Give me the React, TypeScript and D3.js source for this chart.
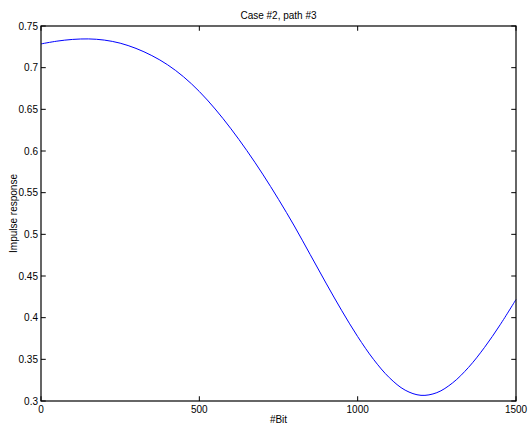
import React from "react";
import * as d3 from "d3";

const bits = [0, 50, 100, 150, 200, 250, 300, 350, 400, 450, 500, 550, 600, 650, 700, 750, 800, 850, 900, 950, 1000, 1050, 1100, 1150, 1200, 1250, 1300, 1350, 1400, 1450, 1500];
const response = [0.7285, 0.7318, 0.7339, 0.7345, 0.7331, 0.7294, 0.7231, 0.7145, 0.7034, 0.6891, 0.6714, 0.6504, 0.6266, 0.6005, 0.5723, 0.5420, 0.5100, 0.4758, 0.4415, 0.4083, 0.3773, 0.3500, 0.3280, 0.3130, 0.3068, 0.3100, 0.3218, 0.3403, 0.3640, 0.3915, 0.4218];
const xTicks = [0, 500, 1000, 1500];
const yTicks = [0.3, 0.35, 0.4, 0.45, 0.5, 0.55, 0.6, 0.65, 0.7, 0.75];
const title = "Case #2, path #3";
const xLabel = "#Bit";
const yLabel = "Impulse response";

export default function App() {
  const W = 528, H = 430;
  const left = 41, right = 516, top = 26, bottom = 401;
  const x = d3.scaleLinear().domain([0, 1500]).range([left, right]);
  const y = d3.scaleLinear().domain([0.3, 0.75]).range([bottom, top]);
  const line = d3
    .line<number>()
    .x((_, i) => x(bits[i]))
    .y((d) => y(d))
    .curve(d3.curveCatmullRom.alpha(0.5));
  const tl = 4.75;
  const font = "'Liberation Sans', Arial, sans-serif";
  return (
    <div style={{ position: "fixed", left: 0, top: 0 }}>
      <svg width={W} height={H} style={{ display: "block", background: "#fff" }} fontFamily={font}>
        <rect x={0} y={0} width={W} height={H} fill="#ffffff" />
        <path d={line(response) || ""} fill="none" stroke="#0000ff" strokeWidth={1} />
        <rect x={left} y={top} width={right - left} height={bottom - top} fill="none" stroke="#000" strokeWidth={1.2} />
        {xTicks.map((t) => (
          <g key={"x" + t}>
            <line x1={x(t)} x2={x(t)} y1={bottom} y2={bottom - tl} stroke="#000" />
            <line x1={x(t)} x2={x(t)} y1={top} y2={top + tl} stroke="#000" />
            <text x={x(t)} y={413} fontSize={10} textAnchor="middle" fill="#000">{t}</text>
          </g>
        ))}
        {yTicks.map((t) => (
          <g key={"y" + t}>
            <line x1={left} x2={left + tl} y1={y(t)} y2={y(t)} stroke="#000" />
            <line x1={right} x2={right - tl} y1={y(t)} y2={y(t)} stroke="#000" />
            <text x={38} y={y(t) + 3.5} fontSize={10} textAnchor="end" fill="#000">{String(t)}</text>
          </g>
        ))}
        <text x={(left + right) / 2} y={18.5} fontSize={10} textAnchor="middle" fill="#000">{title}</text>
        <text x={(left + right) / 2} y={423} fontSize={10} textAnchor="middle" fill="#000">{xLabel}</text>
        <text transform={`translate(17,${(top + bottom) / 2}) rotate(-90)`} fontSize={10} textAnchor="middle" fill="#000">{yLabel}</text>
      </svg>
    </div>
  );
}
